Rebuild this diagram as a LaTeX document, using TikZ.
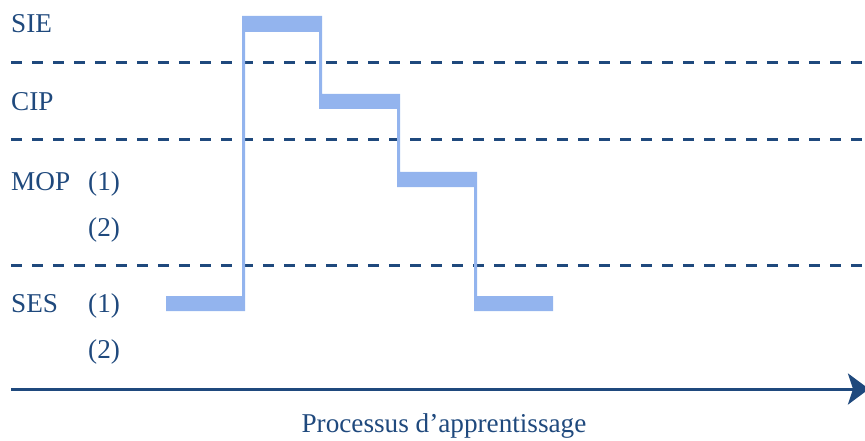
\documentclass[tikz,border=0pt]{standalone}
\usepackage{fontspec}
\setmainfont{Liberation Serif}
\usetikzlibrary{arrows.meta}
\definecolor{dblue}{RGB}{31,73,125}
\definecolor{lblue}{RGB}{147,180,238}
\begin{document}
\begin{tikzpicture}[x=1pt,y=-1pt,
  lab/.style={anchor=base west,inner sep=0pt,text=dblue,font=\fontsize{27.2}{32}\selectfont},
  sep/.style={draw=dblue,line width=3pt,dash pattern=on 11pt off 10pt},
  axis/.style={draw=dblue,line width=3pt,-{Stealth[length=21pt,width=31pt,inset=5pt]}}]
\useasboundingbox (0,0) rectangle (865,441);
% separators
\draw[sep] (11,63) -- (865,63);
\draw[sep] (11,140) -- (865,140);
\draw[sep] (11,265) -- (865,265);
% step curve
\fill[lblue] (166,296) -- (242,296) -- (242,16) -- (322,16) -- (322,94) -- (400,94)
  -- (400,172) -- (477,172) -- (477,296) -- (553,296) -- (553,311) -- (474,311)
  -- (474,187) -- (397,187) -- (397,109) -- (319,109) -- (319,32) -- (245,32)
  -- (245,311) -- (166,311) -- cycle;
% labels
\node[lab] (sie) at (11,33) {SIE};
\node[lab] (cip) at (11,111) {CIP};
\node[lab] (mop) at (11,190) {MOP};
\node[lab] (mop1) at (88,190) {(1)};
\node[lab] (mop2) at (88,236) {(2)};
\node[lab] (ses) at (11,312) {SES};
\node[lab] (ses1) at (88,312) {(1)};
\node[lab] (ses2) at (88,358) {(2)};
% axis
\coordinate (a0) at (11,389);
\coordinate (a1) at (869,389);
\draw[axis] (a0) -- (a1);
\node[lab,anchor=base] (proc) at (444,432) {Processus d’apprentissage};
\end{tikzpicture}
\end{document}
